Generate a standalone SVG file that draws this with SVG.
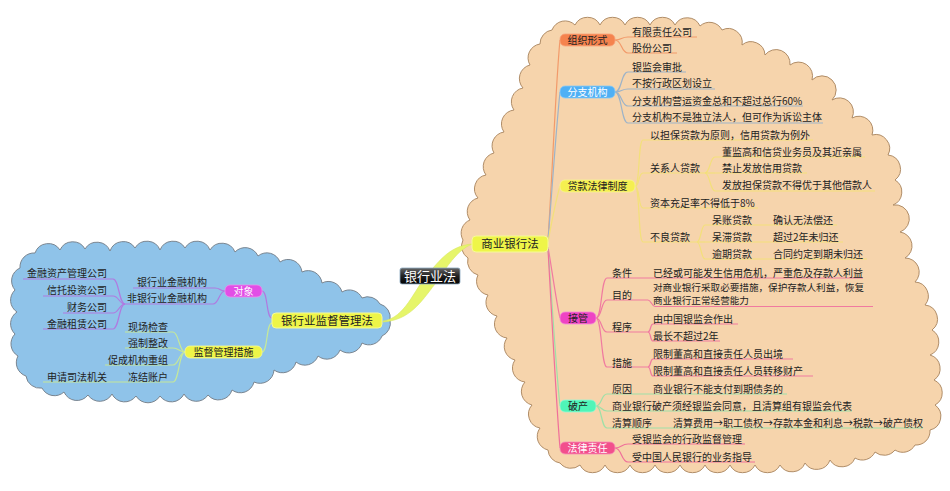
<svg xmlns="http://www.w3.org/2000/svg" width="950" height="491" viewBox="0 0 950 491">
<style>
.t{font-family:"Noto Sans CJK SC","Noto Sans",sans-serif;font-size:10px;fill:#222}
.m{text-anchor:middle}
.e{text-anchor:end}
.w{fill:#fff}
.big{font-size:11.5px}
.sm{font-size:9.6px}
.c{fill:none;stroke-width:1.2}
.or{stroke:#f29a6a}.bl{stroke:#9db3c8}.ye{stroke:#f3e07a}.pk{stroke:#f07aa0}
.gr{stroke:#9ee0a8}.lp{stroke:#f0709a}.pu{stroke:#b07ae0}.lg{stroke:#c5e89a}
.cloudR{fill:#f6d4ac;stroke:#b08d68;stroke-width:1}
.cloudL{fill:#8fc3e9;stroke:#7a8590;stroke-width:1}
</style>
<defs>
<linearGradient id="blk" x1="0" y1="0" x2="0" y2="1">
<stop offset="0" stop-color="#666"/><stop offset="0.5" stop-color="#222"/><stop offset="1" stop-color="#000"/>
</linearGradient>
</defs>
<rect width="950" height="491" fill="#fff"/>
<g id="cloud-left">
<path class="cloudL" d="M20,268 A14 14 0 0 1 35,253 A14 14 0 0 1 60,250 A14 14 0 0 1 85,249 A14 14 0 0 1 110,251 A14 14 0 0 1 135,248 A14 14 0 0 1 160,250 A14 14 0 0 1 185,248 A14 14 0 0 1 210,250 A14 14 0 0 1 235,252 A14 14 0 0 1 258,256 A14 14 0 0 1 280,262 A14 14 0 0 1 302,272 A14 14 0 0 1 322,283 A14 14 0 0 1 342,292 A14 14 0 0 1 362,298 A14 14 0 0 1 380,304 A14 14 0 0 1 390,320 A14 14 0 0 1 382,336 A14 14 0 0 1 362,343 A14 14 0 0 1 340,350 A14 14 0 0 1 318,356 A14 14 0 0 1 296,362 A14 14 0 0 1 274,370 A14 14 0 0 1 254,382 A14 14 0 0 1 232,390 A14 14 0 0 1 208,395 A14 14 0 0 1 184,394 A14 14 0 0 1 160,396 A14 14 0 0 1 136,396 A14 14 0 0 1 112,394 A14 14 0 0 1 88,395 A14 14 0 0 1 64,392 A14 14 0 0 1 42,388 A14 14 0 0 1 26,376 A14 14 0 0 1 18,356 A14 14 0 0 1 15,334 A14 14 0 0 1 17,312 A14 14 0 0 1 15,290 A14 14 0 0 1 20,268 Z"/>
</g>
<g id="cloud-right">
<path class="cloudR" d="M552,30 A14 14 0 0 1 575,25 A14 14 0 0 1 600,25 A14 14 0 0 1 625,25 A14 14 0 0 1 650,25 A14 14 0 0 1 675,25 A14 14 0 0 1 700,26 A14 14 0 0 1 722,30 A14 14 0 0 1 742,45 A14 14 0 0 1 765,55 A14 14 0 0 1 790,65 A14 14 0 0 1 812,80 A14 14 0 0 1 832,100 A14 14 0 0 1 852,118 A14 14 0 0 1 872,135 A14 14 0 0 1 888,155 A14 14 0 0 1 895,180 A14 14 0 0 1 893,205 A14 14 0 0 1 900,232 A14 14 0 0 1 905,258 A14 14 0 0 1 915,282 A14 14 0 0 1 925,305 A14 14 0 0 1 932,330 A14 14 0 0 1 930,355 A14 14 0 0 1 934,380 A14 14 0 0 1 935,405 A14 14 0 0 1 930,430 A14 14 0 0 1 915,445 A14 14 0 0 1 895,450 A14 14 0 0 1 875,452 A14 14 0 0 1 855,458 A14 14 0 0 1 830,460 A14 14 0 0 1 805,463 A14 14 0 0 1 780,465 A14 14 0 0 1 755,465 A14 14 0 0 1 730,465 A14 14 0 0 1 705,465 A14 14 0 0 1 680,465 A14 14 0 0 1 655,465 A14 14 0 0 1 630,465 A14 14 0 0 1 605,465 A14 14 0 0 1 580,465 A14 14 0 0 1 560,463 A14 14 0 0 1 548,450 A14 14 0 0 1 540,428 A14 14 0 0 1 532,405 A14 14 0 0 1 525,382 A14 14 0 0 1 515,360 A14 14 0 0 1 507,338 A14 14 0 0 1 497,316 A14 14 0 0 1 488,295 A14 14 0 0 1 478,275 A14 14 0 0 1 468,258 A14 14 0 0 1 463,240 A14 14 0 0 1 470,220 A14 14 0 0 1 478,198 A14 14 0 0 1 486,175 A14 14 0 0 1 494,153 A14 14 0 0 1 504,132 A14 14 0 0 1 514,110 A14 14 0 0 1 523,88 A14 14 0 0 1 530,65 A14 14 0 0 1 540,44 A14 14 0 0 1 552,30 Z"/>
</g>
<g id="connectors">
<path fill="#e6f56a" stroke="#d8e860" stroke-width="0.6" d="M383,321 C405,318 414,290 427,275 C440,260 450,246 472,244 C456,251 447,267 435,284 C421,302 410,320 383,322 Z"/>
<path class="c pu" d="M272,318 C266,318 268,291 262,291"/>
<path class="c lg" d="M272,323 C266,323 268,352 262,352"/>
<path class="c pu" d="M225,291 C219,291 221,288 215,288"/>
<path class="c pu" d="M225,291 C219,291 219,304 213,304"/>
<path class="c pu" d="M125,304 C119,304 119,279 113,279"/>
<path class="c pu" d="M125,304 C119,304 119,296 113,296"/>
<path class="c pu" d="M125,304 C119,304 119,313 113,313"/>
<path class="c pu" d="M125,304 C119,304 119,329 113,329"/>
<path class="c lg" d="M185,352 C179,352 179,332 173,332"/>
<path class="c lg" d="M185,352 C179,352 179,348 173,348"/>
<path class="c lg" d="M185,352 C179,352 179,365 173,365"/>
<path class="c lg" d="M185,352 C179,352 179,382 173,382"/>
<path class="c or" d="M548,240 C552,180 556,80 560,40"/>
<path class="c bl" d="M548,241 C552,190 556,130 560,92"/>
<path class="c ye" d="M548,242 C552,220 556,200 560,186"/>
<path class="c pk" d="M548,247 C552,270 556,300 560,318"/>
<path class="c gr" d="M548,248 C552,300 556,370 560,406"/>
<path class="c lp" d="M548,249 C552,320 556,400 560,448"/>
<path class="c or" d="M615,40 C622,40 621,37 628,37"/>
<path class="c or" d="M615,40 C622,40 621,53 628,53"/>
<path class="c bl" d="M615,92 C622,92 621,72 628,72"/>
<path class="c bl" d="M615,92 C622,92 621,89 628,89"/>
<path class="c bl" d="M615,92 C622,92 621,106 628,106"/>
<path class="c bl" d="M615,92 C622,92 621,123 628,123"/>
<path class="c ye" d="M635,186 C640,186 638,140 643,140"/>
<path class="c ye" d="M635,186 C640,186 638,173 643,173"/>
<path class="c ye" d="M635,186 C640,186 638,208 643,208"/>
<path class="c ye" d="M635,186 C640,186 638,242 643,242"/>
<path class="c ye" d="M705,173 C710,173 710,157 715,157"/>
<path class="c ye" d="M705,173 L715,173"/>
<path class="c ye" d="M705,173 C710,173 710,191 715,191"/>
<path class="c ye" d="M697,242 C701,242 701,225 705,225"/>
<path class="c ye" d="M697,242 L705,242"/>
<path class="c ye" d="M697,242 C701,242 701,259 705,259"/>
<path class="c pk" d="M596,318 C602,318 601,278 607,278"/>
<path class="c pk" d="M596,318 C602,318 601,300 607,300"/>
<path class="c pk" d="M596,318 C602,318 601,332 607,332"/>
<path class="c pk" d="M596,318 C602,318 601,367 607,367"/>
<path class="c pk" d="M648,300 C651,300 652,306.5 655,306.5"/>
<path class="c pk" d="M648,332 C651,332 650,324 653,324"/>
<path class="c pk" d="M648,332 C651,332 650,341 653,341"/>
<path class="c pk" d="M648,367 C651,367 650,359 653,359"/>
<path class="c pk" d="M648,367 C651,367 650,376 653,376"/>
<path class="c gr" d="M596,406 C602,406 601,394 607,394"/>
<path class="c gr" d="M596,406 C602,406 601,411 607,411"/>
<path class="c gr" d="M596,406 C602,406 601,428 607,428"/>
<path class="c lp" d="M615,448 C622,448 621,444 628,444"/>
<path class="c lp" d="M615,448 C622,448 621,462 628,462"/>
</g>
<g id="n-yinhangyefa">
<rect x="400" y="268" width="60" height="16" rx="2" fill="url(#blk)" stroke="#8aa8c0" stroke-width="0.8"/>
<text class="t m w" x="430" y="280.5" style="font-size:13px">银行业法</text>
</g>
<g id="n-jianguan-fa">
<rect x="272" y="313" width="110" height="15" rx="4" fill="#eef548" stroke="#f6fa9a" stroke-width="1"/>
<text class="t m big" x="327" y="324.8">银行业监督管理法</text>
</g>
<g id="n-duixiang">
<rect x="225" y="285" width="37" height="12" rx="5" fill="#e24ee6" stroke="#ee90ee" stroke-width="0.8"/>
<text class="t m w" x="243.5" y="294.7">对象</text>
</g>
<g id="n-jgcs">
<rect x="185" y="346" width="77" height="12" rx="5" fill="#eef548" stroke="#f6fa9a" stroke-width="0.8"/>
<text class="t m" x="223.5" y="355.7">监督管理措施</text>
</g>
<g id="n-yhyjr">
<path class="c pu" d="M133,288 H215"/><text class="t e" x="207" y="285.7">银行业金融机构</text>
</g>
<g id="n-fyhyjr">
<path class="c pu" d="M125,304 H213"/><text class="t e" x="207" y="301.7">非银行业金融机构</text>
</g>
<g id="n-jrzc">
<path class="c pu" d="M23,279 H113"/><text class="t e" x="107" y="276.7">金融资产管理公司</text>
</g>
<g id="n-xttz">
<path class="c pu" d="M43,296 H113"/><text class="t e" x="107" y="293.7">信托投资公司</text>
</g>
<g id="n-cwgs">
<path class="c pu" d="M63,313 H113"/><text class="t e" x="107" y="310.7">财务公司</text>
</g>
<g id="n-jrzl">
<path class="c pu" d="M43,329 H113"/><text class="t e" x="107" y="327.7">金融租赁公司</text>
</g>
<g id="n-xcjc">
<path class="c lg" d="M125,332 H173"/><text class="t e" x="168" y="330.7">现场检查</text>
</g>
<g id="n-qzzg">
<path class="c lg" d="M125,348 H173"/><text class="t e" x="168" y="346.7">强制整改</text>
</g>
<g id="n-cchg">
<path class="c lg" d="M105,365 H173"/><text class="t e" x="168" y="363.7">促成机构重组</text>
</g>
<g id="n-djzh">
<path class="c lg" d="M125,382 H173"/><text class="t e" x="168" y="380.7">冻结账户</text>
</g>
<g id="n-sqsf">
<path class="c lg" d="M43,382 H125"/><text class="t e" x="107" y="380.7">申请司法机关</text>
</g>
<g id="n-syyhf">
<rect x="472" y="236" width="76" height="16" rx="4" fill="#eef548" stroke="#f6fa9a" stroke-width="1"/>
<text class="t m big" x="510" y="248.2">商业银行法</text>
</g>
<g id="n-zzxs">
<rect x="560" y="34" width="55" height="12" rx="5" fill="#f5834e" stroke="#f7a27a" stroke-width="0.8"/>
<text class="t m" x="587.5" y="43.7">组织形式</text>
<path class="c or" d="M628,37 H697"/><text class="t" x="632" y="35.7">有限责任公司</text>
<path class="c or" d="M628,53 H677"/><text class="t" x="632" y="51.7">股份公司</text>
</g>
<g id="n-fzjg">
<rect x="560" y="86" width="55" height="12" rx="5" fill="#4fb0f5" stroke="#8ccaf5" stroke-width="0.8"/>
<text class="t m w" x="587.5" y="95.7">分支机构</text>
<path class="c bl" d="M628,72 H686"/><text class="t" x="632" y="70.7">银监会审批</text>
<path class="c bl" d="M628,89 H715"/><text class="t" x="632" y="86.7">不按行政区划设立</text>
<path class="c bl" d="M628,106 H803"/><text class="t" x="632" y="104.7">分支机构营运资金总和不超过总行60%</text>
<path class="c bl" d="M628,123 H823"/><text class="t" x="632" y="120.7">分支机构不是独立法人，但可作为诉讼主体</text>
</g>
<g id="n-dkfl">
<rect x="560" y="180" width="75" height="12" rx="5" fill="#f5ef50" stroke="#f8f590" stroke-width="0.8"/>
<text class="t m" x="597.5" y="189.7">贷款法律制度</text>
<path class="c ye" d="M643,140 H813"/><text class="t" x="650" y="138.7">以担保贷款为原则，信用贷款为例外</text>
<path class="c ye" d="M643,173 H705"/><text class="t" x="650" y="171.7">关系人贷款</text>
<path class="c ye" d="M715,157 H865"/><text class="t" x="722" y="155.7">董监高和信贷业务员及其近亲属</text>
<path class="c ye" d="M715,173 H807"/><text class="t" x="722" y="171.7">禁止发放信用贷款</text>
<path class="c ye" d="M715,191 H875"/><text class="t" x="722" y="188.7">发放担保贷款不得优于其他借款人</text>
<path class="c ye" d="M643,208 H758"/><text class="t" x="650" y="206.7">资本充足率不得低于8%</text>
<path class="c ye" d="M643,242 H697"/><text class="t" x="650" y="240.7">不良贷款</text>
<path class="c ye" d="M705,225 H837"/><text class="t" x="712" y="223.7">呆账贷款</text><text class="t" x="773" y="223.7">确认无法偿还</text>
<path class="c ye" d="M705,242 H843"/><text class="t" x="712" y="240.7">呆滞贷款</text><text class="t" x="773" y="240.7">超过2年未归还</text>
<path class="c ye" d="M705,259 H867"/><text class="t" x="712" y="257.7">逾期贷款</text><text class="t" x="773" y="257.7">合同约定到期未归还</text>
</g>
<g id="n-jieguan">
<rect x="560" y="312" width="36" height="12" rx="5" fill="#ee44c4" stroke="#f48ad8" stroke-width="0.8"/>
<text class="t m" x="578" y="321.7">接管</text>
<path class="c pk" d="M607,278 H863"/><text class="t" x="612" y="276.7">条件</text><text class="t" x="653" y="276.7">已经或可能发生信用危机，严重危及存款人利益</text>
<path class="c pk" d="M607,300 H648"/><text class="t" x="612" y="298.7">目的</text>
<path class="c pk" d="M655,306.5 H873"/><text class="t sm" x="653" y="291.3">对商业银行采取必要措施，保护存款人利益，恢复</text><text class="t sm" x="653" y="304.3">商业银行正常经营能力</text>
<path class="c pk" d="M607,332 H648"/><text class="t" x="612" y="330.7">程序</text>
<path class="c pk" d="M653,324 H738"/><text class="t" x="653" y="322.7">由中国银监会作出</text>
<path class="c pk" d="M653,341 H720"/><text class="t" x="653" y="339.7">最长不超过2年</text>
<path class="c pk" d="M607,367 H648"/><text class="t" x="612" y="366.7">措施</text>
<path class="c pk" d="M653,359 H793"/><text class="t" x="653" y="357.7">限制董高和直接责任人员出境</text>
<path class="c pk" d="M653,376 H813"/><text class="t" x="653" y="374.7">限制董高和直接责任人员转移财产</text>
</g>
<g id="n-pochan">
<rect x="560" y="400" width="36" height="12" rx="5" fill="#4ff5b8" stroke="#9af8d4" stroke-width="0.8"/>
<text class="t m" x="578" y="409.7">破产</text>
<path class="c gr" d="M607,394 H787"/><text class="t" x="612" y="392.7">原因</text><text class="t" x="653" y="392.7">商业银行不能支付到期债务的</text>
<path class="c gr" d="M607,411 H852"/><text class="t" x="612" y="409.7">商业银行破产须经银监会同意，且清算组有银监会代表</text>
<path class="c gr" d="M607,428 H923"/><text class="t" x="612" y="426.7">清算顺序</text><text class="t" x="673" y="426.7">清算费用→职工债权→存款本金和利息→税款→破产债权</text>
</g>
<g id="n-flzr">
<rect x="560" y="442" width="55" height="12" rx="5" fill="#f24f8c" stroke="#f690b8" stroke-width="0.8"/>
<text class="t m w" x="587.5" y="451.7">法律责任</text>
<path class="c lp" d="M628,444 H745"/><text class="t" x="632" y="442.7">受银监会的行政监督管理</text>
<path class="c lp" d="M628,462 H755"/><text class="t" x="632" y="460.7">受中国人民银行的业务指导</text>
</g>
</svg>
